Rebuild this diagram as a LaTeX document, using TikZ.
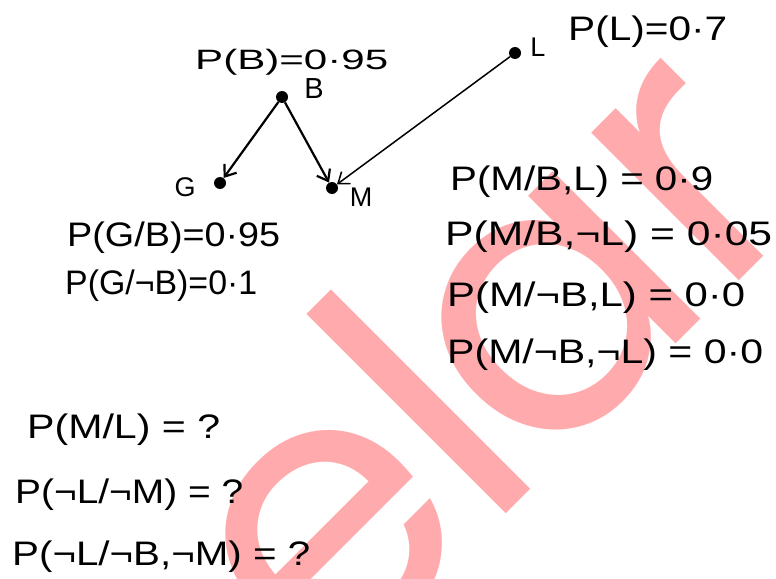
\documentclass[tikz,border=0pt]{standalone}
\usepackage{fontspec}
\usepackage{graphicx}
\usetikzlibrary{arrows.meta,calc}
\setmainfont{Liberation Sans}
\newfontfamily\wmfont{Poppins}
\definecolor{wmpink}{RGB}{255,171,173}
\newcommand{\hwline}[2]{\resizebox{#1pt}{\height}{#2}}
\begin{document}
\begin{tikzpicture}[x=1pt,y=-1pt,
  dot/.style={circle,fill=black,inner sep=0pt,minimum size=12pt},
  lbl/.style={inner sep=0pt,font=\fontsize{27}{30}\selectfont},
  eq/.style={inner sep=0pt,anchor=west,font=\fontsize{34}{40}\selectfont},
  eqs/.style={inner sep=0pt,anchor=west,font=\fontsize{28}{32}\selectfont},
  wm/.style={inner sep=0pt,rotate=45,text=wmpink,font=\wmfont\fontsize{381}{400}\selectfont},
  edgearr/.style={line width=2.2pt,-{Straight Barb[length=10pt,width=15pt]}}]
\useasboundingbox (0,0) rectangle (776,578);
\fill[white] (0,0) rectangle (776,578);
\begin{scope}
\clip (0,0) rectangle (776,578);
\node[wm,anchor=base] (wml) at (518.5,501.5) {l};
\node[wm,anchor=base east] (wme) at ($(wml.base west)+(5,-5)$) {e};
\node[wm,anchor=base west] (wma) at ($(wml.base east)+(-12,12)$) {a};
\node[wm,anchor=base west] (wmr) at ($(wma.base east)+(-4,4)$) {r};
\end{scope}
% graph
\node[dot] (B) at (282,97) {};
\node[dot] (G) at (220,183) {};
\node[dot] (M) at (332,188) {};
\node[dot] (L) at (515,53) {};
\node[lbl,font=\fontsize{29}{32}\selectfont] (Bl) at (314,89) {B};
\node[lbl] (Gl) at (185,187) {G};
\node[lbl] (Ml) at (361,197) {M};
\node[lbl] (Ll) at (538,47) {L};
\draw[edgearr] (B) -- (G);
\draw[edgearr] (B) -- (M);
\draw[edgearr,line width=1.5pt] (L) -- (M);
% equations
\node[eqs] (pb) at (195,62) {\hwline{193}{P(B)=0·95}};
\node[eq] (pl) at (568,32) {\hwline{159}{P(L)=0·7}};
\node[eq] (pg1) at (67,238) {\hwline{213}{P(G/B)=0·95}};
\node[eq] (pg2) at (65,286) {\hwline{192}{P(G/¬B)=0·1}};
\node[eq] (pm1) at (450,182) {\hwline{263}{P(M/B,L) = 0·9}};
\node[eq] (pm2) at (445,237) {\hwline{327}{P(M/B,¬L) = 0·05}};
\node[eq] (pm3) at (447,298) {\hwline{298}{P(M/¬B,L) = 0·0}};
\node[eq] (pm4) at (447,355) {\hwline{316}{P(M/¬B,¬L) = 0·0}};
\node[eq] (q1) at (27,430) {\hwline{193}{P(M/L) = ?}};
\node[eq] (q2) at (15,495) {\hwline{228}{P(¬L/¬M) = ?}};
\node[eq] (q3) at (12,557) {\hwline{298}{P(¬L/¬B,¬M) = ?}};
\end{tikzpicture}
\end{document}
